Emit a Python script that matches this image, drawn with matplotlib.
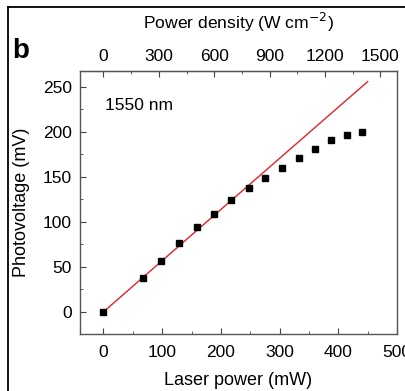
import numpy as np
import matplotlib
matplotlib.use("Agg")
import matplotlib.pyplot as plt
from matplotlib.lines import Line2D
from matplotlib.ticker import MultipleLocator

plt.rcParams['font.family'] = ['Liberation Sans', 'DejaVu Sans']

# Measured photovoltage against laser power at 1550 nm.
laser_power = [0, 68, 98, 128, 160, 189, 218, 247, 275, 304, 333, 361, 388, 415, 441]
photovoltage = [0, 38, 57, 76, 94, 109, 124, 138, 149, 160, 171, 181, 191, 197, 200]

# Linear fit drawn as a straight red line.
fit_power = [0, 450]
fit_voltage = [0, 256]

# Conversion from laser power (mW) to power density (W cm^-2).
density_per_mw = 3.18

fig = plt.figure(figsize=(4.06, 3.91), dpi=100)
ax = fig.add_axes([0.197, 0.145, 0.781, 0.674])

ax.plot(fit_power, fit_voltage, color='#e0242a', lw=1.0, zorder=2)
ax.plot(laser_power, photovoltage, 's', color='black', ms=4.5, zorder=3)

ax.set_xlim(-40, 500)
ax.set_ylim(-25, 268)
ax.xaxis.set_major_locator(MultipleLocator(100))
ax.xaxis.set_minor_locator(MultipleLocator(50))
ax.yaxis.set_major_locator(MultipleLocator(50))
ax.yaxis.set_minor_locator(MultipleLocator(25))
ax.tick_params(which='both', direction='in', color='#444444', labelsize=12.5, pad=6)
ax.tick_params(axis='x', pad=8)
ax.tick_params(which='major', length=4)
ax.tick_params(which='minor', length=2)
for s in ax.spines.values():
    s.set_color('#555555')
    s.set_linewidth(1.0)

ax.set_xlabel('Laser power (mW)', fontsize=13, labelpad=8)
ax.set_ylabel('Photovoltage (mV)', fontsize=13, labelpad=9)
ax.text(0.079, 0.87, '1550 nm', transform=ax.transAxes, fontsize=12.5, va='center')

top = ax.secondary_xaxis('top', functions=(lambda x: x * density_per_mw,
                                           lambda x: x / density_per_mw))
top.xaxis.set_major_locator(MultipleLocator(300))
top.xaxis.set_minor_locator(MultipleLocator(150))
top.tick_params(which='both', direction='in', color='#444444', labelsize=12.5, pad=5)
top.tick_params(which='major', length=4)
top.tick_params(which='minor', length=2)
top.set_xlabel('Power density (W cm$^{-2}$)', fontsize=12.6, labelpad=14)

fig.text(12 / 406, 1 - 58.3 / 391, 'b', fontsize=20, fontweight='bold', va='baseline')

# Frame lines along the top and left of the panel.
fig.add_artist(Line2D([8 / 406, 8 / 406], [0, 1 - 7 / 391], color='black', lw=1.3))
fig.add_artist(Line2D([8 / 406, 1], [1 - 7 / 391, 1 - 7 / 391], color='black', lw=1.3))

fig.savefig('out.png', dpi=100)
